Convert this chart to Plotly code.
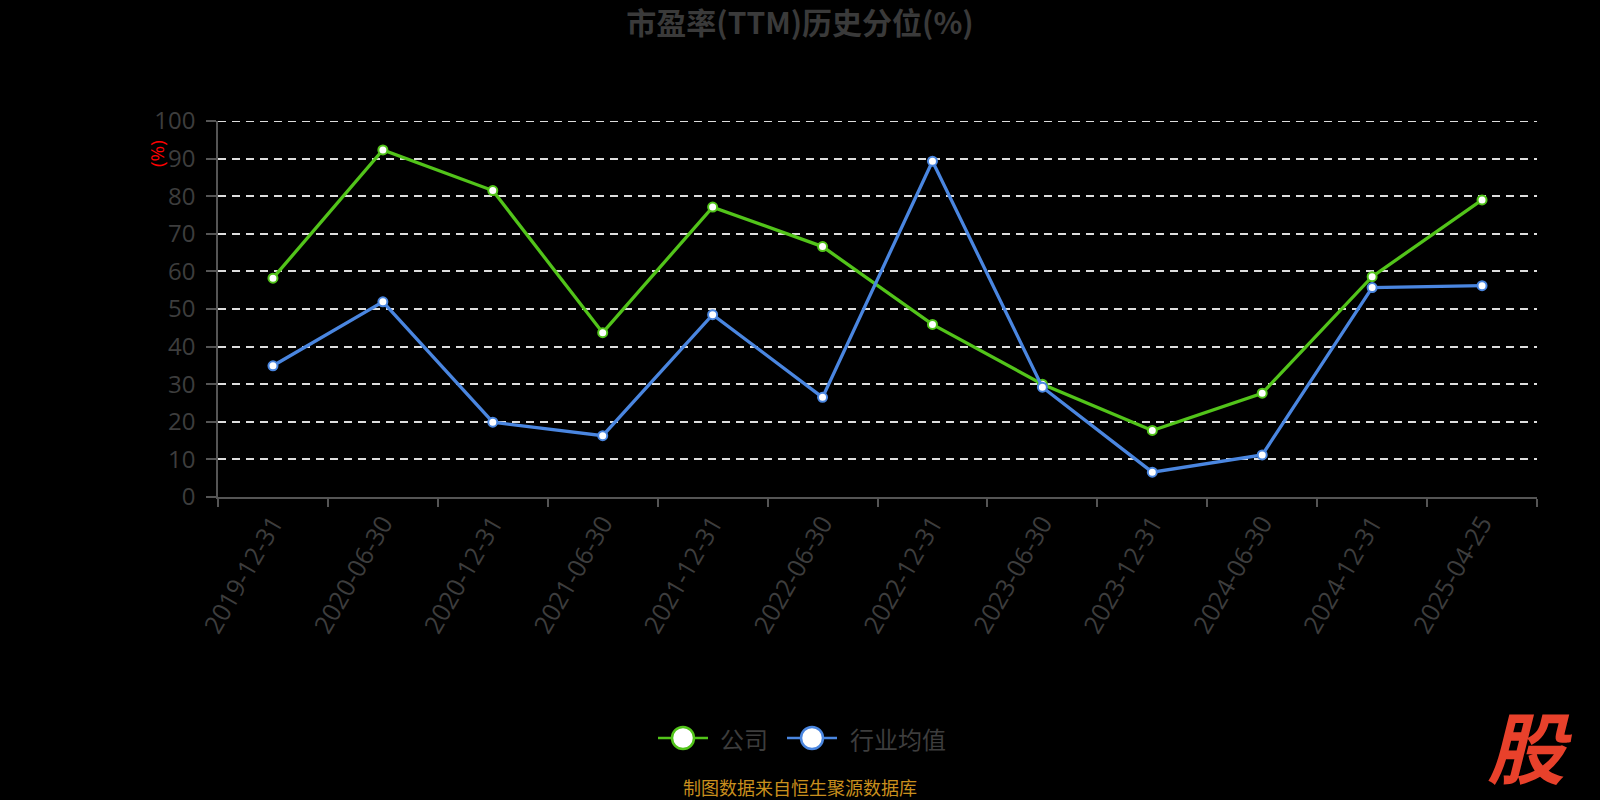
import plotly.graph_objects as go

dates = ["2019-12-31", "2020-06-30", "2020-12-31", "2021-06-30", "2021-12-31", "2022-06-30",
         "2022-12-31", "2023-06-30", "2023-12-31", "2024-06-30", "2024-12-31", "2025-04-25"]
company = [58.2, 92.3, 81.5, 43.7, 77.1, 66.6, 45.9, 30.0, 17.7, 27.6, 58.6, 79.0]
industry = [34.9, 51.9, 19.9, 16.3, 48.5, 26.5, 89.3, 29.2, 6.6, 11.2, 55.7, 56.2]
series_names = ["公司", "行业均值"]
series_colors = ["#52c41a", "#4a86e0"]
y_max = 100

W, H = 1600, 800
L, R, T, B = 218, 1537, 121, 497

def px(x):
    return (x - L) / (R - L)

def py(y):
    return (B - y) / (B - T)

FONT = "Open Sans, Noto Sans CJK SC, sans-serif"
CJK = "Noto Sans CJK SC, sans-serif"
GRAY = "#3d3d3d"

fig = go.Figure()
for name, vals, col in zip(series_names, [company, industry], series_colors):
    fig.add_trace(go.Scatter(
        x=dates, y=vals, name=name, mode="lines+markers",
        line=dict(color=col, width=3.3),
        marker=dict(size=9, color="white", line=dict(color=col, width=2)),
        showlegend=False, hoverinfo="x+y+name"))

shapes = []
annotations = []
# top gridline (plotly drops the grid line at the range edge)
shapes.append(dict(type="line", xref="paper", yref="y", x0=0, x1=1, y0=y_max, y1=y_max,
                   line=dict(color="#dddddd", width=2, dash="8px,6px"), layer="below"))
# custom legend
legend_items = [(658, 708, 683, 718), (787, 837, 812, 848)]
ly = 738
for (x0, x1, cx, tx), name, col in zip(legend_items, series_names, series_colors):
    shapes.append(dict(type="line", xref="paper", yref="paper",
                       x0=px(x0), x1=px(x1), y0=py(ly), y1=py(ly),
                       line=dict(color=col, width=2.5)))
    r = 11
    shapes.append(dict(type="circle", xref="paper", yref="paper",
                       x0=px(cx - r), x1=px(cx + r), y0=py(ly - r), y1=py(ly + r),
                       fillcolor="white", line=dict(color=col, width=2.5)))
    annotations.append(dict(text=name, xref="paper", yref="paper", x=px(tx), y=py(ly),
                            xanchor="left", yanchor="middle", showarrow=False,
                            font=dict(family=CJK, size=24, color=GRAY)))

# y-axis name
annotations.append(dict(text="(%)", xref="paper", yref="paper", x=px(157), y=py(154),
                        xanchor="center", yanchor="middle", showarrow=False, textangle=-90,
                        font=dict(family=FONT, size=19, color="#ff0000")))
# footer
annotations.append(dict(text="制图数据来自恒生聚源数据库", xref="paper", yref="paper",
                        x=px(800), y=py(787), xanchor="center", yanchor="middle", borderpad=0,
                        showarrow=False, font=dict(family=CJK, size=18, color="#c98f1d")))
# logo
annotations.append(dict(text="<b><i>股</i></b>", xref="paper", yref="paper",
                        x=px(1530), y=py(744), xanchor="center", yanchor="middle", borderpad=0,
                        showarrow=False, font=dict(family=CJK, size=78, color="#e8412b")))

fig.update_layout(
    width=W, height=H,
    paper_bgcolor="black", plot_bgcolor="black",
    margin=dict(l=L, r=W - R, t=T, b=H - B),
    title=dict(text="<b>市盈率(TTM)历史分位(%)</b>", x=0.5, xref="container", xanchor="center",
               y=1 - 23 / H, yref="container", yanchor="middle",
               font=dict(family=CJK, size=30, color="#3a3a3a")),
    shapes=shapes, annotations=annotations,
    showlegend=False,
    xaxis=dict(type="category", range=[-0.5, len(dates) - 0.5], showgrid=False,
               showline=True, linecolor="#555555", linewidth=1.5,
               ticks="outside", tickson="boundaries", ticklen=8, tickcolor="#555555", tickwidth=1.5,
               tickangle=-60, tickfont=dict(family=FONT, size=25, color=GRAY), zeroline=False),
    yaxis=dict(range=[0, y_max], dtick=10, showgrid=True, gridcolor="#dddddd", gridwidth=2,
               griddash="8px,6px", showline=True, linecolor="#555555", linewidth=1.5,
               ticks="outside", ticklen=10, tickcolor="#555555", tickwidth=1.5,
               tickfont=dict(family=FONT, size=24, color=GRAY), zeroline=False,
               ticklabelstandoff=6),
)

fig.write_html("out.html", config={"displayModeBar": False},
               post_script="document.body.style.margin='0';document.body.style.background='black';")
